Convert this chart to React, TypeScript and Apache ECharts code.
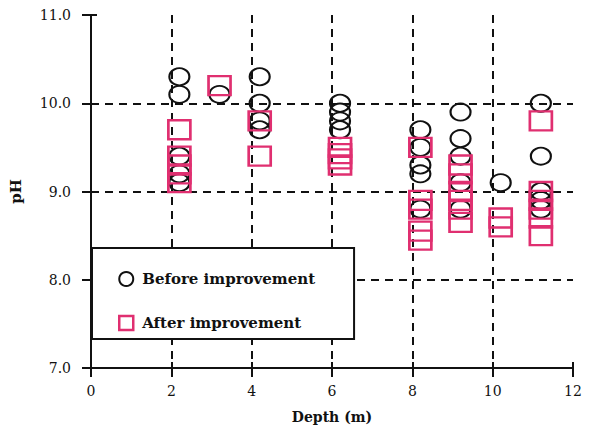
import React, { useEffect, useRef } from "react";
import * as echarts from "echarts";

// Before improvement (circles)
const beforeDepth = [2.2, 2.2, 2.2, 2.2, 2.2, 3.2, 4.2, 4.2, 4.2, 4.2, 6.2, 6.2, 6.2, 6.2, 8.2, 8.2, 8.2, 8.2, 8.2, 9.2, 9.2, 9.2, 9.2, 9.2, 10.2, 11.2, 11.2, 11.2, 11.2, 11.2];
const beforePH = [10.3, 10.1, 9.4, 9.2, 9.1, 10.1, 10.3, 10.0, 9.8, 9.7, 10.0, 9.9, 9.8, 9.7, 9.7, 9.5, 9.3, 9.2, 8.8, 9.9, 9.6, 9.4, 9.1, 8.8, 9.1, 10.0, 9.4, 9.0, 8.9, 8.8];

// After improvement (squares)
const afterDepth = [2.2, 2.2, 2.2, 2.2, 2.2, 3.2, 4.2, 4.2, 6.2, 6.2, 6.2, 6.2, 8.2, 8.2, 8.2, 8.2, 8.2, 9.2, 9.2, 9.2, 9.2, 9.2, 9.2, 10.2, 10.2, 11.2, 11.2, 11.2, 11.2, 11.2, 11.2];
const afterPH = [9.7, 9.4, 9.3, 9.2, 9.1, 10.2, 9.8, 9.4, 9.5, 9.43, 9.37, 9.3, 9.5, 8.9, 8.8, 8.55, 8.45, 9.3, 9.2, 9.0, 8.9, 8.8, 8.65, 8.7, 8.6, 9.8, 9.0, 8.9, 8.8, 8.7, 8.5];

const seriesNames = ["Before improvement", "After improvement"];
const xMin = 0, xMax = 12, xStep = 2;
const yMin = 7, yMax = 11, yStep = 1;

const FONT = "DejaVu Serif";
const PINK = "#e02f70";
const SQUARE_ICON = "path://M0,0H10V10H0Z";

export default function App() {
  const ref = useRef<HTMLDivElement>(null);
  useEffect(() => {
    if (!ref.current) return;
    const chart = echarts.init(ref.current, null, { renderer: "svg" });
    const dashed = { show: true, showMinLine: false, showMaxLine: false, lineStyle: { color: "#111", width: 2, type: [8, 6] as any } };
    chart.setOption({
      animation: false,
      backgroundColor: "#fff",
      grid: { left: 85, right: 20, top: 15, bottom: 67, containLabel: false },
      xAxis: [
        {
          type: "value", min: xMin, max: xMax, interval: xStep, position: "bottom",
          name: "Depth (m)", nameLocation: "middle", nameGap: 42,
          nameTextStyle: { fontFamily: FONT, fontWeight: "bold", fontSize: 14, color: "#111" },
          axisLine: { show: true, lineStyle: { color: "#111", width: 2 } },
          axisTick: { show: true, inside: false, length: 9, lineStyle: { color: "#111", width: 2 } },
          axisLabel: { fontFamily: FONT, fontSize: 14, color: "#111", margin: 16 },
          splitLine: dashed,
        },
        {
          type: "value", min: xMin, max: xMax, interval: xStep, position: "bottom",
          axisLine: { show: false },
          axisTick: { show: true, inside: true, length: 6, lineStyle: { color: "#111", width: 2 } },
          axisLabel: { show: false },
          splitLine: { show: false },
        },
      ],
      yAxis: [
        {
          type: "value", min: yMin, max: yMax, interval: yStep, position: "left",
          name: "pH", nameLocation: "middle", nameGap: 68, nameRotate: 90,
          nameTextStyle: { fontFamily: FONT, fontWeight: "bold", fontSize: 15, color: "#111" },
          axisLine: { show: true, lineStyle: { color: "#111", width: 2 } },
          axisTick: { show: true, inside: false, length: 9, lineStyle: { color: "#111", width: 2 } },
          axisLabel: { fontFamily: FONT, fontSize: 14, color: "#111", margin: 20, formatter: (v: number) => v.toFixed(1) },
          splitLine: dashed,
        },
        {
          type: "value", min: yMin, max: yMax, interval: yStep, position: "left",
          axisLine: { show: false },
          axisTick: { show: true, inside: true, length: 6, lineStyle: { color: "#111", width: 2 } },
          axisLabel: { show: false },
          splitLine: { show: false },
        },
      ],
      legend: {
        orient: "vertical", left: 92, top: 248,
        backgroundColor: "#fff", borderColor: "#111", borderWidth: 2,
        padding: [21, 39, 6, 26],
        itemWidth: 22, itemHeight: 14, itemGap: 24,
        textStyle: { fontFamily: FONT, fontWeight: "bold", fontSize: 15, color: "#111", lineHeight: 20 },
        data: [
          { name: seriesNames[0], icon: "circle", itemStyle: { color: "rgba(255,255,255,0)", borderColor: "#111", borderWidth: 2 } },
          { name: seriesNames[1], icon: SQUARE_ICON, itemStyle: { color: "rgba(255,255,255,0)", borderColor: PINK, borderWidth: 2.5 } },
        ],
      },
      series: [
        {
          name: seriesNames[0], type: "scatter", xAxisIndex: 0, yAxisIndex: 0,
          symbol: "circle", symbolSize: [20, 17],
          itemStyle: { color: "rgba(255,255,255,0)", borderColor: "#111", borderWidth: 2, opacity: 1 },
          data: beforeDepth.map((d, i) => [d, beforePH[i]]),
        },
        {
          name: seriesNames[1], type: "scatter", xAxisIndex: 0, yAxisIndex: 0,
          symbol: "rect", symbolSize: [22, 19],
          itemStyle: { color: "rgba(255,255,255,0)", borderColor: PINK, borderWidth: 2.5, opacity: 1 },
          data: afterDepth.map((d, i) => [d, afterPH[i]]),
        },
      ],
    });
    return () => chart.dispose();
  }, []);
  return <div ref={ref} style={{ position: "fixed", left: 0, top: 0, width: 593, height: 435 }} />;
}
